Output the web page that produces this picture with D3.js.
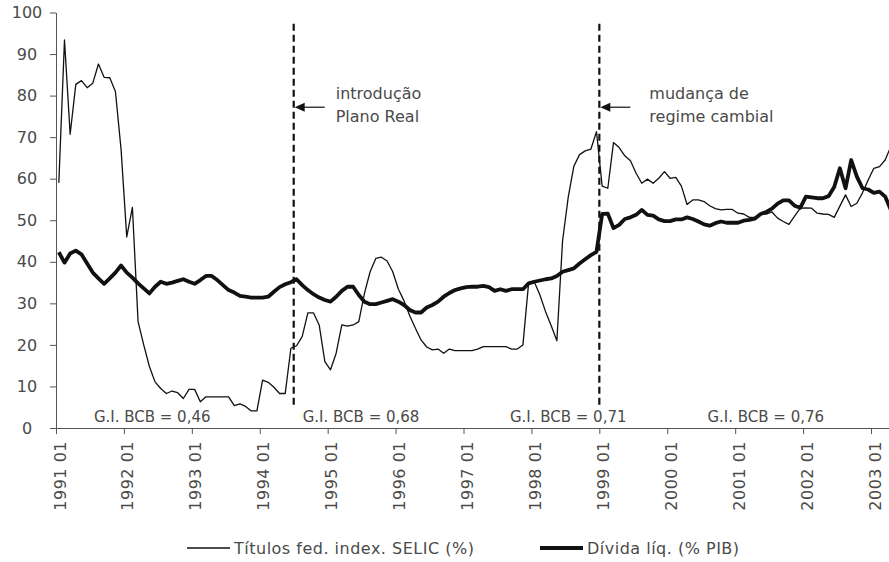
<!DOCTYPE html>
<html>
<head>
<meta charset="utf-8">
<script src="https://cdn.jsdelivr.net/npm/d3@7"></script>
<style>
  body { margin: 0; background: #fff; }
  text { font-family: "DejaVu Sans", sans-serif; fill: #4a4a4a; }
</style>
</head>
<body>
<div id="container"></div>
<script>
/* DATA */
// monthly, 1991 01 .. 2003 04
const selic = [
  59.0, 93.4, 70.7, 82.7, 83.6, 81.9, 83.0, 87.6, 84.4, 84.3, 81.0, 67.0,
  46.0, 53.1, 25.6, 20.0, 14.8, 11.1, 9.5, 8.3, 8.9, 8.5, 7.1, 9.3,
  9.3, 6.3, 7.5, 7.5, 7.5, 7.5, 7.5, 5.4, 5.8, 5.2, 4.1, 4.1,
  11.5, 11.0, 9.8, 8.3, 8.3, 19.2, 19.8, 22.0, 27.7, 27.7, 24.8, 16.0,
  14.0, 18.0, 24.8, 24.5, 24.8, 25.6, 32.4, 37.6, 40.8, 41.1, 40.2, 37.6,
  33.4, 30.6, 27.0, 24.0, 21.2, 19.5, 18.8, 19.0, 18.0, 19.0, 18.6, 18.6,
  18.6, 18.6, 19.0, 19.6, 19.6, 19.6, 19.6, 19.6, 19.0, 19.0, 20.0, 34.8,
  35.2, 32.0, 28.0, 24.6, 21.0, 45.0, 55.5, 63.0, 65.8, 66.7, 67.1, 71.3,
  58.2, 57.7, 68.7, 67.5, 65.5, 64.3, 61.3, 58.9, 59.9, 58.9, 60.1, 61.7,
  60.1, 60.3, 58.2, 53.8, 54.9, 54.9, 54.5, 53.5, 52.8, 52.5, 52.6, 52.6,
  51.7, 51.5, 50.7, 50.7, 51.5, 51.5, 52.0, 50.5, 49.7, 49.0, 51.0, 52.9,
  53.0, 52.9, 51.7, 51.5, 51.4, 50.7, 53.4, 56.1, 53.3, 54.1, 56.6, 59.7,
  62.5, 62.9, 64.5, 67.7
];
const divida = [
  42.3, 39.8, 42.0, 42.7, 41.8, 39.6, 37.4, 36.0, 34.7, 36.0, 37.4, 39.1,
  37.4, 36.2, 34.8, 33.6, 32.4, 34.0, 35.2, 34.7, 35.0, 35.4, 35.8, 35.2,
  34.7, 35.6, 36.6, 36.6, 35.6, 34.4, 33.2, 32.6, 31.8, 31.6, 31.4, 31.4,
  31.4, 31.6, 32.8, 33.9, 34.6, 35.1, 35.8, 34.4, 33.2, 32.2, 31.4, 30.8,
  30.4, 31.6, 33.0, 34.0, 34.0, 32.0, 30.4, 29.8, 29.8, 30.2, 30.6, 31.0,
  30.4, 29.6, 28.4, 27.8, 27.8, 29.0, 29.6, 30.4, 31.6, 32.5, 33.2, 33.6,
  33.9, 34.0, 34.0, 34.2, 33.9, 33.0, 33.4, 33.0, 33.4, 33.4, 33.4, 34.8,
  35.2, 35.5, 35.8, 36.0, 36.6, 37.6, 38.0, 38.4, 39.6, 40.6, 41.6, 42.4,
  51.5, 51.6, 48.1, 48.9, 50.3, 50.7, 51.3, 52.5, 51.3, 51.1, 50.2, 49.8,
  49.8, 50.2, 50.2, 50.7, 50.3, 49.7, 49.0, 48.7, 49.3, 49.7, 49.4, 49.4,
  49.4, 49.9, 50.1, 50.4, 51.5, 52.0, 52.8, 54.0, 54.8, 54.8, 53.5, 53.0,
  55.7, 55.5, 55.3, 55.3, 55.8, 58.0, 62.5, 57.7, 64.5, 60.5, 57.7, 57.4,
  56.6, 56.9, 55.7, 52.5
];
const xLabels = ["1991 01", "1992 01", "1993 01", "1994 01", "1995 01", "1996 01", "1997 01",
  "1998 01", "1999 01", "2000 01", "2001 01", "2002 01", "2003 01"];
const yTicks = [0, 10, 20, 30, 40, 50, 60, 70, 80, 90, 100];
const eventMonths = [42, 96];   // 1994 07, 1999 01
const eventLabels = [["introdução", "Plano Real"], ["mudança de", "regime cambial"]];
const giLabels = ["G.I. BCB = 0,46", "G.I. BCB = 0,68", "G.I. BCB = 0,71", "G.I. BCB = 0,76"];
const giMonths = [17.0, 53.9, 90.5, 125.4];
const seriesNames = ["Títulos fed. index. SELIC (%)", "Dívida líq. (% PIB)"];

/* CONSTANTS */
const width = 889, height = 562;
const monthW = 815 / 144;

/* SCALES */
const xScale = d3.scaleLinear()
  .domain([0, 148])
  .range([56, 56 + 148 * monthW]);

const yScale = d3.scaleLinear()
  .domain([0, 100])
  .range([428, 12.5]);

const svg = d3.select("#container")
  .append("svg")
  .attr("width", width)
  .attr("height", height);

// y axis
const yAxis = svg.append("g")
  .attr("transform", `translate(${xScale(0)},0)`)
  .call(d3.axisLeft(yScale).tickValues(yTicks).tickSize(6).tickSizeOuter(0));
yAxis.selectAll("text")
  .attr("x", -29)
  .attr("text-anchor", "middle")
  .style("font-size", "16px")
  .style("font-family", "DejaVu Sans");

// x axis
const xAxis = svg.append("g")
  .attr("transform", `translate(0,${yScale(0)})`)
  .call(d3.axisBottom(xScale)
    .tickValues(d3.range(0, 145, 12))
    .tickSize(6)
    .tickSizeOuter(0)
    .tickFormat((d, i) => xLabels[i]));
xAxis.selectAll("text")
  .attr("transform", "rotate(-90)")
  .attr("text-anchor", "end")
  .attr("x", -13)
  .attr("y", 9)
  .attr("dy", 0)
  .style("font-size", "16px")
  .style("letter-spacing", "0.5px")
  .style("font-family", "DejaVu Sans");

svg.selectAll(".domain, .tick line").attr("stroke", "#555");

// G.I. labels
svg.selectAll("text.gi")
  .data(giLabels)
  .join("text")
  .attr("class", "gi")
  .attr("x", (d, i) => xScale(giMonths[i]))
  .attr("y", yScale(0) - 6)
  .attr("text-anchor", "middle")
  .style("font-size", "15px")
  .text(d => d);

// event lines
const ev = svg.selectAll("g.event")
  .data(eventMonths)
  .join("g")
  .attr("class", "event");

ev.append("line")
  .attr("x1", d => xScale(d))
  .attr("x2", d => xScale(d))
  .attr("y1", yScale(97.3))
  .attr("y2", yScale(5.6))
  .attr("stroke", "#111")
  .attr("stroke-width", 2.2)
  .attr("stroke-dasharray", "7,4");

const arrowY = yScale(77.2);
ev.append("line")
  .attr("x1", d => xScale(d) + 31)
  .attr("x2", d => xScale(d) + 8)
  .attr("y1", arrowY)
  .attr("y2", arrowY)
  .attr("stroke", "#222")
  .attr("stroke-width", 1.3);
ev.append("path")
  .attr("d", d => `M${xScale(d) + 1},${arrowY} l10,-4.5 l0,9 z`)
  .attr("fill", "#111");

const textDx = [42, 50];
ev.each(function (d, i) {
  const t = d3.select(this).append("text")
    .attr("x", xScale(d) + textDx[i])
    .attr("y", arrowY - 8)
    .style("font-size", "16px");
  eventLabels[i].forEach((s, k) => {
    t.append("tspan")
      .attr("x", xScale(d) + textDx[i])
      .attr("dy", k === 0 ? 0 : 22.5)
      .text(s);
  });
});

// lines
const line = d3.line()
  .x((d, i) => xScale(i + 0.5))
  .y(d => yScale(d));

svg.append("path")
  .datum(selic)
  .attr("fill", "none")
  .attr("stroke", "#111")
  .attr("stroke-width", 1.3)
  .attr("stroke-linejoin", "round")
  .attr("d", line);

svg.append("path")
  .datum(divida)
  .attr("fill", "none")
  .attr("stroke", "#111")
  .attr("stroke-width", 3.8)
  .attr("stroke-linejoin", "round")
  .attr("d", line);

// legend
const legendX = [187, 540];
const legendW = [1.3, 3.8];
const lg = svg.selectAll("g.legend")
  .data(seriesNames)
  .join("g")
  .attr("class", "legend")
  .attr("transform", (d, i) => `translate(${legendX[i]},548)`);
lg.append("line")
  .attr("x1", 0).attr("x2", 43)
  .attr("stroke", "#111")
  .attr("stroke-width", (d, i) => legendW[i]);
lg.append("text")
  .attr("x", 47)
  .attr("dy", "0.35em")
  .style("font-size", "16px")
  .style("letter-spacing", "0.5px")
  .text(d => d);
</script>
</body>
</html>
